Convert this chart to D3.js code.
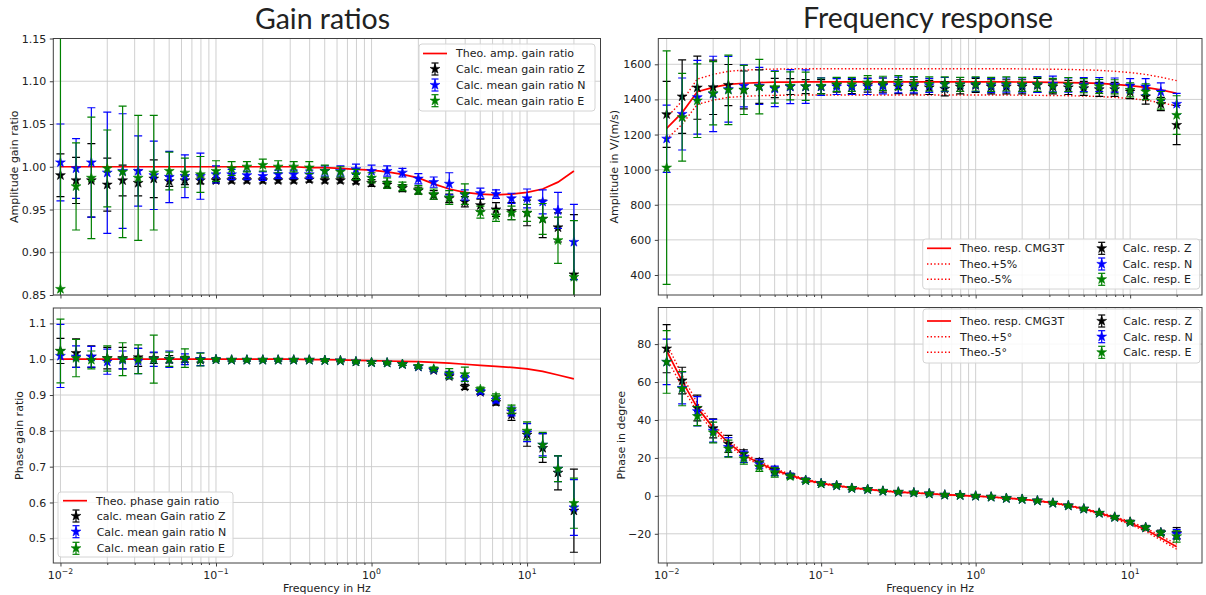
<!DOCTYPE html>
<html><head><meta charset="utf-8">
<script src="https://cdn.jsdelivr.net/npm/d3@7"></script>
<style>body{margin:0;background:#fff}svg{display:block}text{font-family:"DejaVu Sans",sans-serif;fill:#222}</style>
</head><body><svg id="c" width="1206" height="595"></svg>
<script>
// ---------- data ----------
const freqs=[0.01,0.0126,0.0158,0.02,0.0251,0.0316,0.0398,0.0501,0.0631,0.0794,0.1,0.126,0.158,0.2,0.251,0.316,0.398,0.501,0.631,0.794,1,1.26,1.58,2,2.51,3.16,3.98,5.01,6.31,7.94,10,12.6,15.8,20];
const xMajor=[0.01,0.1,1,10];
const xMinor=[0.02,0.03,0.04,0.05,0.06,0.07,0.08,0.09,0.2,0.3,0.4,0.5,0.6,0.7,0.8,0.9,2,3,4,5,6,7,8,9,20];
const xMajorLabels=["−2","−1","0","1"];

// Amplitude gain ratio
const ampTheo=[1,1,1,1,1,1,1,1,1,1,1,1,1,1,1,1,0.999,0.999,0.998,0.997,0.996,0.994,0.991,0.987,0.980,0.974,0.970,0.968,0.967,0.968,0.970,0.974,0.982,0.995];
const ampZ=[0.990,0.984,0.984,0.979,0.984,0.981,0.986,0.983,0.984,0.984,0.984,0.984,0.984,0.984,0.984,0.984,0.985,0.984,0.984,0.983,0.981,0.979,0.975,0.972,0.967,0.963,0.959,0.955,0.950,0.948,0.946,0.939,0.929,0.874];
const ampZerr=[0.025,0.027,0.043,0.031,0.018,0.015,0.022,0.006,0.005,0.004,0.003,0.003,0.003,0.003,0.003,0.003,0.003,0.003,0.003,0.003,0.004,0.004,0.004,0.004,0.005,0.005,0.006,0.007,0.008,0.010,0.015,0.022,0.017,0.070];
const ampN=[1.005,0.998,1.005,0.993,0.995,0.995,0.990,0.988,0.989,0.989,0.991,0.991,0.990,0.989,0.991,0.991,0.991,0.995,0.995,0.997,0.995,0.995,0.993,0.986,0.982,0.980,0.967,0.969,0.968,0.963,0.963,0.959,0.949,0.912];
const ampNerr=[0.045,0.035,0.064,0.071,0.067,0.041,0.040,0.030,0.025,0.027,0.010,0.006,0.005,0.005,0.005,0.005,0.005,0.006,0.006,0.006,0.007,0.006,0.005,0.006,0.006,0.013,0.006,0.006,0.005,0.006,0.011,0.014,0.021,0.044];
const ampE=[0.857,0.977,0.987,0.998,0.994,0.987,0.993,0.995,0.993,0.991,0.995,0.998,1.000,1.002,1.000,1.000,0.999,0.995,0.994,0.991,0.987,0.981,0.977,0.973,0.968,0.964,0.968,0.947,0.943,0.946,0.946,0.939,0.914,0.871];
const ampEerr=[0.300,0.051,0.071,0.045,0.077,0.073,0.067,0.022,0.017,0.021,0.012,0.008,0.006,0.007,0.007,0.006,0.007,0.007,0.006,0.006,0.006,0.006,0.005,0.005,0.006,0.008,0.012,0.007,0.007,0.008,0.010,0.018,0.027,0.066];

// Phase gain ratio
const phTheo=[1,1,1,1,1,1,1,1,1,1,1,1,1,1,1,1,0.999,0.999,0.998,0.997,0.996,0.995,0.994,0.993,0.991,0.989,0.986,0.983,0.980,0.977,0.973,0.966,0.956,0.945];
const phZ=[1.023,1.017,1.007,1.003,1.003,1.005,1.003,1.000,1.000,0.998,0.999,0.998,0.998,0.998,0.998,0.998,0.998,0.997,0.996,0.993,0.991,0.990,0.986,0.979,0.969,0.952,0.923,0.908,0.880,0.845,0.789,0.752,0.683,0.577];
const phZerr=[0.035,0.040,0.030,0.030,0.030,0.025,0.015,0.010,0.008,0.006,0.004,0.003,0.003,0.003,0.003,0.003,0.003,0.003,0.003,0.003,0.003,0.003,0.003,0.004,0.004,0.005,0.007,0.006,0.008,0.016,0.032,0.040,0.048,0.116];
const phN=[1.009,1.007,1.007,0.993,0.998,0.995,1.000,1.000,1.000,1.000,0.999,0.998,0.998,0.998,0.998,0.998,0.998,0.997,0.996,0.993,0.991,0.990,0.986,0.979,0.971,0.956,0.947,0.910,0.886,0.854,0.795,0.761,0.694,0.586];
const phNerr=[0.088,0.030,0.029,0.035,0.025,0.035,0.020,0.023,0.015,0.018,0.004,0.003,0.003,0.003,0.003,0.003,0.003,0.003,0.003,0.003,0.003,0.003,0.003,0.004,0.005,0.010,0.008,0.006,0.008,0.012,0.025,0.031,0.036,0.078];
const phE=[1.023,1.003,0.998,1.002,1.000,1.000,1.000,1.000,1.003,0.999,0.999,0.998,0.998,0.998,0.998,0.998,0.998,0.997,0.996,0.993,0.991,0.990,0.986,0.980,0.973,0.960,0.958,0.916,0.895,0.860,0.800,0.761,0.694,0.598];
const phEerr=[0.089,0.052,0.025,0.035,0.046,0.040,0.067,0.020,0.026,0.018,0.004,0.003,0.003,0.003,0.003,0.003,0.003,0.003,0.003,0.003,0.003,0.003,0.003,0.004,0.005,0.014,0.020,0.006,0.008,0.012,0.025,0.035,0.036,0.070];

// Amplitude response V/(m/s)
const rTheo=[1235,1325,1444,1469,1486,1492,1496,1498,1499,1500,1500,1500,1500,1500,1500,1500,1500,1500,1500,1500,1500,1500,1500,1499,1498,1497,1496,1494,1491,1486,1479,1469,1454,1435];
const rZ=[1315,1416,1467,1469,1482,1454,1473,1465,1473,1473,1473,1482,1473,1482,1482,1473,1472,1468,1460,1472,1480,1472,1472,1472,1480,1472,1468,1463,1457,1457,1444,1416,1374,1254];
const rZerr=[188,209,180,155,117,108,95,55,45,40,40,40,40,40,40,40,40,40,40,40,40,40,40,40,40,40,40,40,40,40,40,43,38,112];
const rN=[1176,1317,1412,1431,1458,1477,1477,1461,1473,1473,1473,1473,1473,1473,1477,1482,1482,1480,1485,1485,1485,1480,1482,1482,1485,1488,1482,1485,1485,1482,1478,1473,1444,1374];
const rNerr=[192,205,210,215,187,120,105,102,97,95,50,45,45,45,45,45,45,40,40,40,40,40,40,40,45,45,40,40,40,40,40,45,50,60];
const rE=[1011,1298,1393,1435,1454,1454,1473,1469,1477,1475,1477,1486,1486,1496,1492,1496,1490,1488,1488,1486,1488,1486,1488,1486,1486,1480,1485,1478,1474,1472,1454,1444,1395,1311];
const rEerr=[665,250,210,180,198,140,155,90,80,80,45,40,40,40,40,40,40,40,40,40,40,40,40,40,40,40,40,40,40,40,40,45,50,110];

// Phase response in degree
const pTheo=[76.5,60.5,46.5,36.0,28.0,21.6,17.2,13.7,10.8,8.4,6.6,5.4,4.2,3.4,2.6,2.0,1.6,1.1,0.6,0.3,-0.1,-0.6,-1.2,-1.8,-2.6,-3.7,-5.1,-6.9,-9.1,-11.5,-14.3,-17.8,-22.2,-26.8];
const pZ=[77.6,60.8,46.3,35.6,27.4,22.3,17.7,13.7,10.8,8.3,6.5,5.5,4.1,3.5,2.6,2.1,1.7,1.2,0.5,0.4,0.0,-0.5,-1.2,-1.7,-2.5,-3.7,-5.1,-6.8,-9.0,-11.1,-13.7,-16.6,-19.3,-19.7];
const pZerr=[12.7,7,6.8,5,4.5,2,2,1.5,1,1,0.8,0.7,0.7,0.6,0.6,0.6,0.6,0.6,0.6,0.6,0.6,0.6,0.6,0.6,0.6,0.6,0.6,0.6,0.7,0.7,0.8,1,1.2,3];
const pN=[70.6,56.9,44.6,34.3,25.7,20.6,16.8,13.2,10.6,8.2,6.5,5.4,4.0,3.4,2.5,2.0,1.6,1.1,0.5,0.3,-0.1,-0.6,-1.3,-1.8,-2.6,-3.8,-5.2,-6.9,-9.1,-11.3,-13.9,-16.8,-19.5,-20.2];
const pNerr=[12,8.4,7.7,6,5,3,2.5,2.5,1.2,1,0.8,0.7,0.7,0.6,0.6,0.6,0.6,0.6,0.6,0.6,0.6,0.6,0.6,0.6,0.6,0.6,0.6,0.6,0.7,0.7,0.8,1,1.2,2.5];
const pE=[70.6,56.5,42.0,33.4,24.9,19.7,15.4,12.4,10.3,8.1,6.4,5.4,4.0,3.4,2.5,2.0,1.6,1.1,0.5,0.3,-0.1,-0.6,-1.3,-1.8,-2.6,-3.8,-5.2,-6.9,-9.1,-11.3,-13.9,-16.8,-19.6,-21.4];
const pEerr=[16.5,9,5,5.5,4.5,3,2.5,2.5,1.2,1,0.8,0.7,0.7,0.6,0.6,0.6,0.6,0.6,0.6,0.6,0.6,0.6,0.6,0.6,0.6,0.6,0.6,0.6,0.7,0.7,0.8,1,1.2,3];

const yTicksAmpRatio=[0.85,0.90,0.95,1.00,1.05,1.10,1.15];
const yTicksPhRatio=[0.5,0.6,0.7,0.8,0.9,1.0,1.1];
const yTicksAmp=[400,600,800,1000,1200,1400,1600];
const yTicksPh=[-20,0,20,40,60,80];

// ---------- drawing ----------
const svg=d3.select("#c");
const COL={Z:"#000000",N:"#0000ff",E:"#008000",theo:"#ff0000"};
const FS=11;
const star=d3.symbol().type(d3.symbolStar).size(30);
let clipN=0;

function panel(cfg){
  const g=svg.append("g");
  const x=d3.scaleLog().domain(cfg.xd).range([cfg.x0,cfg.x1]);
  const y=d3.scaleLinear().domain(cfg.yd).range([cfg.y1,cfg.y0]);
  const id="clip"+(clipN++);
  svg.append("clipPath").attr("id",id).append("rect")
    .attr("x",cfg.x0).attr("y",cfg.y0).attr("width",cfg.x1-cfg.x0).attr("height",cfg.y1-cfg.y0);
  // grid
  const grid=g.append("g").attr("stroke","#cbcbcb").attr("stroke-width",0.9);
  xMajor.concat(xMinor).forEach(v=>{
    grid.append("line").attr("x1",x(v)).attr("x2",x(v)).attr("y1",cfg.y0).attr("y2",cfg.y1);
  });
  cfg.yticks.forEach(v=>{
    grid.append("line").attr("x1",cfg.x0).attr("x2",cfg.x1).attr("y1",y(v)).attr("y2",y(v));
  });
  const pl=g.append("g").attr("clip-path",`url(#${id})`);
  const line=d3.line().x((d,i)=>x(freqs[i])).y(d=>y(d));
  // theoretical curves
  cfg.lines.forEach(L=>{
    pl.append("path").datum(L.v).attr("d",line).attr("fill","none")
      .attr("stroke",COL.theo).attr("stroke-width",L.dash?1.4:1.7)
      .attr("stroke-dasharray",L.dash?"1.4,2.2":null);
  });
  // error bar series
  cfg.series.forEach(S=>{
    const sg=pl.append("g").attr("stroke",S.c).attr("stroke-width",1.2);
    S.v.forEach((v,i)=>{
      const xx=x(freqs[i]), ya=y(v-S.e[i]), yb=y(v+S.e[i]);
      sg.append("line").attr("x1",xx).attr("x2",xx).attr("y1",ya).attr("y2",yb);
      sg.append("line").attr("x1",xx-4).attr("x2",xx+4).attr("y1",ya).attr("y2",ya);
      sg.append("line").attr("x1",xx-4).attr("x2",xx+4).attr("y1",yb).attr("y2",yb);
    });
    pl.append("g").selectAll("path").data(S.v).join("path")
      .attr("d",star).attr("fill",S.c).attr("stroke",S.c).attr("stroke-width",0.6)
      .attr("transform",(d,i)=>`translate(${x(freqs[i])},${y(d)})`);
  });
  // spines
  g.append("rect").attr("x",cfg.x0).attr("y",cfg.y0).attr("width",cfg.x1-cfg.x0).attr("height",cfg.y1-cfg.y0)
    .attr("fill","none").attr("stroke","#404040").attr("stroke-width",1);
  // y axis
  const ya=g.append("g").attr("transform",`translate(${cfg.x0},0)`)
    .call(d3.axisLeft(y).tickValues(cfg.yticks).tickFormat(d3.format(cfg.yfmt)).tickSize(3.5).tickPadding(3.5));
  ya.select(".domain").remove();
  ya.selectAll("line").attr("stroke","#404040");
  ya.selectAll("text").attr("font-size",FS).attr("font-family","DejaVu Sans").attr("fill","#222");
  // x axis
  const xa=g.append("g").attr("transform",`translate(0,${cfg.y1})`)
    .call(d3.axisBottom(x).tickValues(xMajor).tickFormat(()=>"").tickSize(3.5));
  xa.select(".domain").remove();
  xa.selectAll("line").attr("stroke","#404040");
  const xm=g.append("g").attr("transform",`translate(0,${cfg.y1})`)
    .call(d3.axisBottom(x).tickValues(xMinor).tickFormat(()=>"").tickSize(2));
  xm.select(".domain").remove();
  xm.selectAll("line").attr("stroke","#404040");
  if(cfg.xlabels){
    xMajor.forEach((v,i)=>{
      const t=g.append("text").attr("x",x(v)).attr("y",cfg.y1+15.5).attr("text-anchor","middle").attr("font-size",FS);
      t.append("tspan").text("10");
      t.append("tspan").attr("dy",-4.5).attr("font-size",7.7).text(xMajorLabels[i]);
    });
    g.append("text").attr("x",(cfg.x0+cfg.x1)/2).attr("y",cfg.y1+29).attr("text-anchor","middle")
      .attr("font-size",FS).text("Frequency in Hz");
  }
  g.append("text").attr("transform",`translate(${cfg.ylx},${(cfg.y0+cfg.y1)/2}) rotate(-90)`)
    .attr("text-anchor","middle").attr("dy","0.35em").attr("font-size",FS).text(cfg.ylabel);
  // legend
  const Lg=cfg.legend;
  const lg=g.append("g");
  lg.append("rect").attr("x",Lg.x).attr("y",Lg.y).attr("width",Lg.w).attr("height",Lg.h).attr("rx",3)
    .attr("fill","#fff").attr("fill-opacity",0.85).attr("stroke","#d4d4d4").attr("stroke-width",1);
  Lg.items.forEach(it=>{
    if(it.kind==="line"){
      lg.append("line").attr("x1",it.x).attr("x2",it.x+24).attr("y1",it.y).attr("y2",it.y)
        .attr("stroke",COL.theo).attr("stroke-width",it.dash?1.4:1.7).attr("stroke-dasharray",it.dash?"1.4,2.2":null);
      lg.append("text").attr("x",it.x+33).attr("y",it.y).attr("dy","0.35em").attr("font-size",FS).text(it.label);
    } else {
      const cx=it.x, c=it.c;
      const eg=lg.append("g").attr("stroke",c).attr("stroke-width",1.2);
      eg.append("line").attr("x1",cx).attr("x2",cx).attr("y1",it.y-6).attr("y2",it.y+6);
      eg.append("line").attr("x1",cx-3.5).attr("x2",cx+3.5).attr("y1",it.y-6).attr("y2",it.y-6);
      eg.append("line").attr("x1",cx-3.5).attr("x2",cx+3.5).attr("y1",it.y+6).attr("y2",it.y+6);
      lg.append("path").attr("d",star).attr("fill",c).attr("stroke",c).attr("stroke-width",0.6).attr("transform",`translate(${cx},${it.y})`);
      lg.append("text").attr("x",it.tx).attr("y",it.y).attr("dy","0.35em").attr("font-size",FS).text(it.label);
    }
  });
}

const LX=[53.3,600.5], RX=[658.3,1202];
const LXD=[Math.pow(10,-2.046),Math.pow(10,1.472)], RXD=[Math.pow(10,-2.054),Math.pow(10,1.465)];

panel({x0:LX[0],x1:LX[1],y0:38.5,y1:295,xd:LXD,yd:[0.85,1.15],yticks:yTicksAmpRatio,yfmt:".2f",
  ylabel:"Amplitude gain ratio",ylx:14,xlabels:false,
  lines:[{v:ampTheo}],
  series:[{v:ampZ,e:ampZerr,c:COL.Z},{v:ampN,e:ampNerr,c:COL.N},{v:ampE,e:ampEerr,c:COL.E}],
  legend:{x:419,y:44,w:176,h:67,items:[
    {kind:"line",x:423,y:53.5,label:"Theo. amp. gain ratio"},
    {kind:"pt",x:435,tx:456,y:69,c:COL.Z,label:"Calc. mean gain ratio Z"},
    {kind:"pt",x:435,tx:456,y:85,c:COL.N,label:"Calc. mean gain ratio N"},
    {kind:"pt",x:435,tx:456,y:100.7,c:COL.E,label:"Calc. mean gain ratio E"}]}
});
panel({x0:LX[0],x1:LX[1],y0:308,y1:563,xd:LXD,yd:[0.431,1.143],yticks:yTicksPhRatio,yfmt:".1f",
  ylabel:"Phase gain ratio",ylx:19,xlabels:true,
  lines:[{v:phTheo}],
  series:[{v:phZ,e:phZerr,c:COL.Z},{v:phN,e:phNerr,c:COL.N},{v:phE,e:phEerr,c:COL.E}],
  legend:{x:58,y:492,w:175,h:65,items:[
    {kind:"line",x:63,y:500.7,label:"Theo. phase gain ratio"},
    {kind:"pt",x:76,tx:96.7,y:516,c:COL.Z,label:"calc. mean Gain ratio Z"},
    {kind:"pt",x:76,tx:96.7,y:531.7,c:COL.N,label:"Calc. mean gain ratio N"},
    {kind:"pt",x:76,tx:96.7,y:548.3,c:COL.E,label:"Calc. mean gain ratio E"}]}
});
panel({x0:RX[0],x1:RX[1],y0:38.5,y1:295,xd:RXD,yd:[286,1747],yticks:yTicksAmp,yfmt:"d",
  ylabel:"Amplitude in V/(m/s)",ylx:614,xlabels:false,
  lines:[{v:rTheo},{v:rTheo.map(d=>d*1.05),dash:true},{v:rTheo.map(d=>d*0.95),dash:true}],
  series:[{v:rZ,e:rZerr,c:COL.Z},{v:rN,e:rNerr,c:COL.N},{v:rE,e:rEerr,c:COL.E}],
  legend:{x:922.7,y:239,w:277,h:50,items:[
    {kind:"line",x:927,y:248.3,label:"Theo. resp. CMG3T"},
    {kind:"line",x:927,y:264,label:"Theo.+5%",dash:true},
    {kind:"line",x:927,y:279.3,label:"Theo.-5%",dash:true},
    {kind:"pt",x:1101.7,tx:1122.7,y:248.3,c:COL.Z,label:"Calc. resp. Z"},
    {kind:"pt",x:1101.7,tx:1122.7,y:264,c:COL.N,label:"Calc. resp. N"},
    {kind:"pt",x:1101.7,tx:1122.7,y:279.3,c:COL.E,label:"Calc. resp. E"}]}
});
panel({x0:RX[0],x1:RX[1],y0:307.5,y1:563,xd:RXD,yd:[-35.4,99.3],yticks:yTicksPh,yfmt:"d",
  ylabel:"Phase in degree",ylx:621,xlabels:true,
  lines:[{v:pTheo},{v:pTheo.map(d=>d*1.05),dash:true},{v:pTheo.map(d=>d*0.95),dash:true}],
  series:[{v:pZ,e:pZerr,c:COL.Z},{v:pN,e:pNerr,c:COL.N},{v:pE,e:pEerr,c:COL.E}],
  legend:{x:923,y:309,w:277,h:54,items:[
    {kind:"line",x:927,y:321,label:"Theo. resp. CMG3T"},
    {kind:"line",x:927,y:336.7,label:"Theo.+5°",dash:true},
    {kind:"line",x:927,y:352.3,label:"Theo.-5°",dash:true},
    {kind:"pt",x:1101.7,tx:1123.3,y:321,c:COL.Z,label:"Calc. resp. Z"},
    {kind:"pt",x:1101.7,tx:1123.3,y:336.7,c:COL.N,label:"Calc. resp. N"},
    {kind:"pt",x:1101.7,tx:1123.3,y:352.3,c:COL.E,label:"Calc. resp. E"}]}
});

// titles
svg.append("text").attr("x",322.5).attr("y",28.5).attr("text-anchor","middle")
  .style("font-family","Lato").attr("font-size",28.5).attr("fill","#111").text("Gain ratios");
svg.append("text").attr("x",928).attr("y",27.5).attr("text-anchor","middle")
  .style("font-family","Lato").attr("font-size",28.5).attr("fill","#111").text("Frequency response");
</script></body></html>
